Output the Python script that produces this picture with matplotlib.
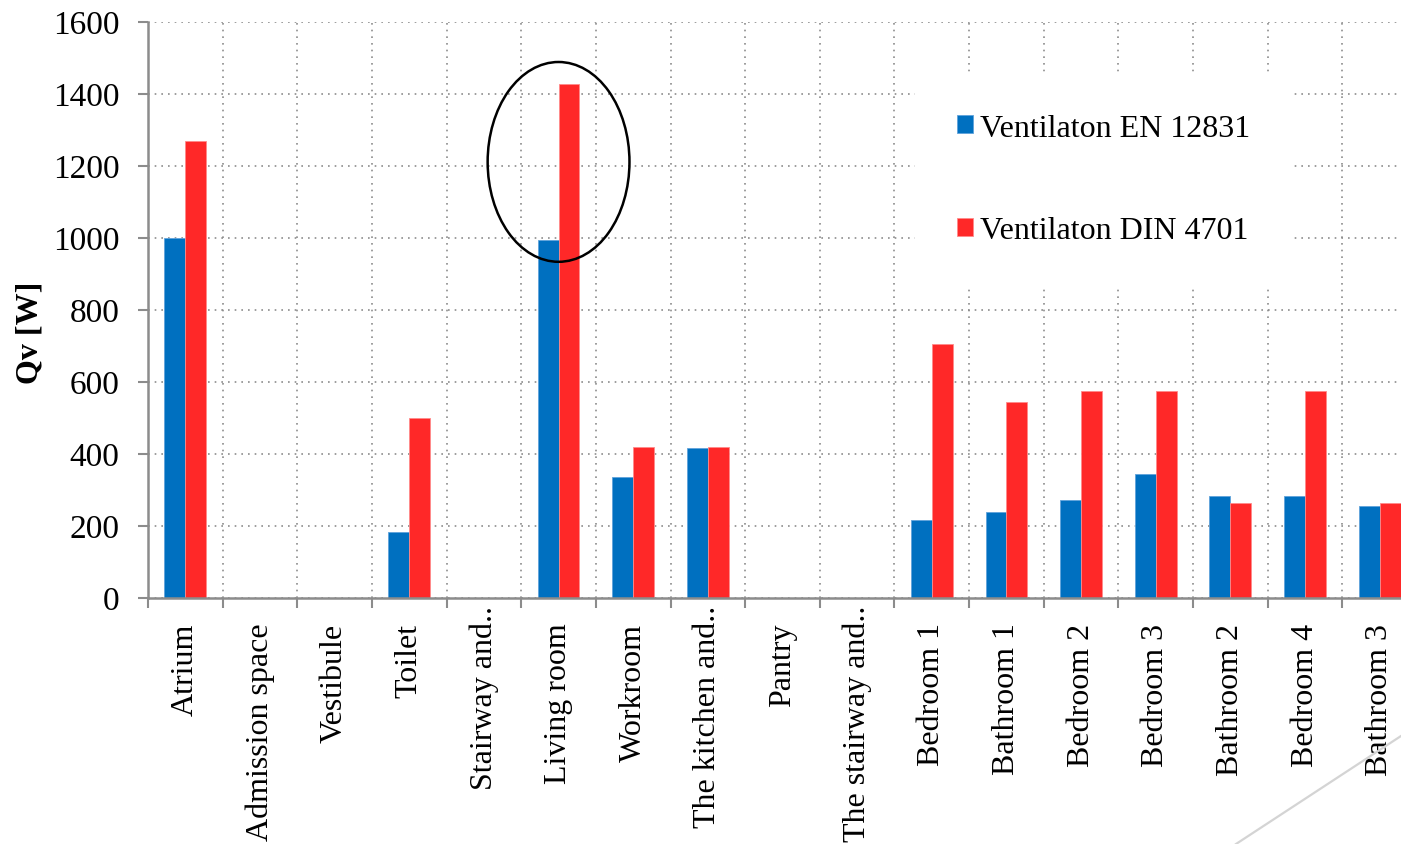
import numpy as np
import matplotlib
matplotlib.use("Agg")
import matplotlib.pyplot as plt
import matplotlib.transforms as mtransforms
from matplotlib.patches import Ellipse
from matplotlib.lines import Line2D

# -------------------------
# data
# -------------------------
rooms = ['Atrium', 'Admission space', 'Vestibule', 'Toilet', 'Stairway and..',
         'Living room', 'Workroom', 'The kitchen and..', 'Pantry',
         'The stairway and..', 'Bedroom 1', 'Bathroom 1', 'Bedroom 2',
         'Bedroom 3', 'Bathroom 2', 'Bedroom 4', 'Bathroom 3']
qv_en12831 = [998, 0, 0, 182, 0, 992, 334, 414, 0, 0, 215, 237, 272, 344, 282, 281, 253]
qv_din4701 = [1268, 0, 0, 500, 0, 1427, 418, 418, 0, 0, 703, 542, 573, 573, 263, 573, 263]
label_en = 'Ventilaton EN 12831'
label_din = 'Ventilaton DIN 4701'
highlight = 'Living room'

# -------------------------
# style
# -------------------------
plt.rcParams['font.family'] = ['Liberation Serif', 'DejaVu Serif']
plt.rcParams['font.size'] = 23
BLUE = '#0070C0'
RED = '#FF2828'
AXIS_GRAY = '#8c8c8c'

W, H, DPI = 1401, 845, 100
fig = plt.figure(figsize=(W / DPI, H / DPI), dpi=DPI)
# plot area runs slightly past the right edge of the image
ax = fig.add_axes([148 / W, 1 - 598.5 / H, (1417 - 148) / W, (598.5 - 22.5) / H])

x = np.arange(len(rooms))
bw = 0.28
ax.bar(x - bw / 2, qv_en12831, bw, color=BLUE, edgecolor='#5fa2db', linewidth=0.6,
       label=label_en, zorder=3)
ax.bar(x + bw / 2, qv_din4701, bw, color=RED, edgecolor='#ff8a8a', linewidth=0.6,
       label=label_din, zorder=3)

ax.set_xlim(-0.5, len(rooms) - 0.5)
ax.set_ylim(0, 1600)
ax.set_yticks(np.arange(0, 1601, 200))

ax.set_xticks(x)
ax.set_xticklabels(rooms, rotation=90, va='top', ha='center', fontsize=23)
ax.set_xticks(np.arange(-0.5, len(rooms), 1), minor=True)

ax.tick_params(axis='x', which='major', length=0, pad=18)
ax.tick_params(axis='x', which='minor', length=7.5, width=1.5, color=AXIS_GRAY)
ax.tick_params(axis='y', length=7.5, width=1.5, color=AXIS_GRAY, pad=13, labelsize=24)

# shortened names sit a little higher under the axis
for lab in ax.get_xticklabels():
    if lab.get_text().endswith('..'):
        lab.set_transform(lab.get_transform() +
                          mtransforms.ScaledTranslation(0, 18 / DPI, fig.dpi_scale_trans))

dots = (0, (1, 3))
ax.grid(True, axis='y', which='major', color=AXIS_GRAY, linestyle=dots, linewidth=1.2, zorder=0)
ax.grid(True, axis='x', which='minor', color=AXIS_GRAY, linestyle=dots, linewidth=1.2, zorder=0)
ax.grid(False, axis='x', which='major')
ax.set_axisbelow(True)

for s in ['top', 'right']:
    ax.spines[s].set_visible(False)
for s in ['left', 'bottom']:
    ax.spines[s].set_color(AXIS_GRAY)
    ax.spines[s].set_linewidth(1.8)
    ax.spines[s].set_zorder(4)

ax.set_ylabel('Qv [W]', fontweight='bold', fontsize=23)
ax.yaxis.set_label_coords(-104 / (1417 - 148), (598.5 - 333) / 576)

# legend on a white block over the grid
leg = ax.legend(loc='upper left', bbox_to_anchor=(915 / W, 1 - 73 / H),
                bbox_transform=fig.transFigure, frameon=True, fancybox=False,
                facecolor='white', edgecolor='white', framealpha=1,
                borderpad=1.3, borderaxespad=0, labelspacing=2.3,
                handlelength=0.5, handleheight=0.5, handletextpad=0.25, fontsize=23)
leg.set_zorder(5)

# circle around the largest difference
i = rooms.index(highlight)
ax.add_patch(Ellipse((i, 1210), 1.9, 555, fill=False, edgecolor='black',
                     linewidth=1.8, zorder=6, clip_on=False))

# light diagonal stroke in the lower right corner
fig.add_artist(Line2D([1236 / W, 1.0], [1 - 845 / H, 1 - 737 / H],
                      transform=fig.transFigure, color='#d4d4d4', linewidth=1.6))

fig.savefig('out.png', dpi=DPI)
